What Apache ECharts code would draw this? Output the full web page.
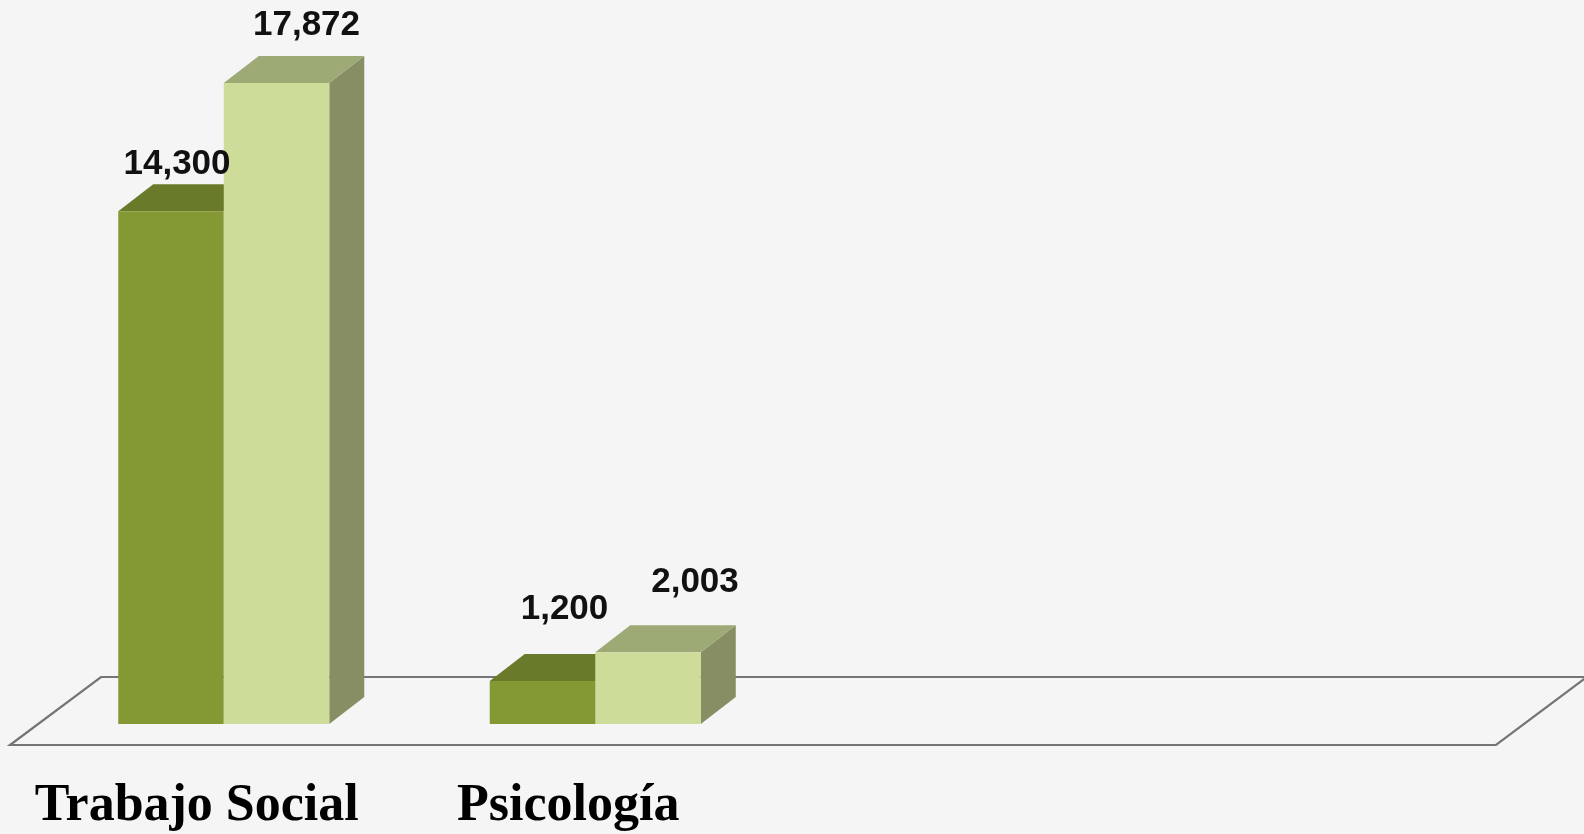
<!DOCTYPE html>
<html>
<head>
<meta charset="utf-8">
<script src="https://cdn.jsdelivr.net/npm/echarts@6/dist/echarts.min.js"></script>
<style>
  html, body { margin: 0; padding: 0; background: #f5f5f5; }
  #chart { width: 1584px; height: 834px; }
</style>
</head>
<body>
<div id="chart"></div>
<script>
// categories on the floor (the last two slots are empty in the original)
const categories = ['Trabajo Social', 'Psicología', '', ''];
// first (dark) and second (light) series
const firstValues = [14300, 1200];
const secondValues = [17872, 2003];

// small nudges for the value labels, relative to the top of each bar
const firstLabelNudge = [[6, -47], [22, -72]];
const secondLabelNudge = [[30, -58], [47, -70]];

const chart = echarts.init(document.getElementById('chart'));

const DEPTH_X = 35, DEPTH_Y = -27;   // bar depth
const BAR_RATIO = 0.284;              // bar width / category width

// x range of one bar inside its category
function barSpan(api, idx, side) {
    const base = api.coord([idx, 0]);
    const w = api.size([1, 0])[0] * BAR_RATIO;
    const x0 = side < 0 ? base[0] - w : base[0];
    return [x0, x0 + w, base[1]];
}

function barRenderer(side, colors) {
    return function (params, api) {
        const idx = api.value(0);
        const val = api.value(1);
        const span = barSpan(api, idx, side);
        const x0 = span[0], x1 = span[1], yb = span[2];
        const yt = api.coord([idx, val])[1];
        return {
            type: 'group',
            children: [
                {
                    type: 'polygon',
                    shape: { points: [[x1, yb], [x1 + DEPTH_X, yb + DEPTH_Y], [x1 + DEPTH_X, yt + DEPTH_Y], [x1, yt]] },
                    style: { fill: colors.side }
                },
                {
                    type: 'polygon',
                    shape: { points: [[x0, yt], [x1, yt], [x1 + DEPTH_X, yt + DEPTH_Y], [x0 + DEPTH_X, yt + DEPTH_Y]] },
                    style: { fill: colors.top }
                },
                {
                    type: 'rect',
                    shape: { x: x0, y: yt, width: x1 - x0, height: yb - yt },
                    style: { fill: colors.front }
                }
            ]
        };
    };
}

// value labels drawn in their own series so they sit above every bar
function labelRenderer(params, api) {
    const idx = api.value(0);
    const val = api.value(1);
    const s = api.value(2);
    const nudge = (s === 0 ? firstLabelNudge : secondLabelNudge)[idx];
    const span = barSpan(api, idx, s === 0 ? -1 : 1);
    const yt = api.coord([idx, val])[1];
    return {
        type: 'text',
        style: {
            x: (span[0] + span[1]) / 2 + nudge[0],
            y: yt + nudge[1],
            text: echarts.format.addCommas(val),
            fill: '#111',
            font: 'bold 35px "Liberation Sans", Arial, sans-serif',
            align: 'center',
            verticalAlign: 'middle'
        }
    };
}

function floorRenderer(params, api) {
    const band = api.size([1, 0])[0];
    const c = api.coord([0, 0]);
    const xl = c[0] - band / 2;
    const xr = xl + band * categories.length;
    const y = c[1];
    return {
        type: 'polygon',
        shape: { points: [[xl - 28, y + 21], [xr - 28, y + 21], [xr + 63, y - 47], [xl + 63, y - 47]] },
        style: { fill: 'none', stroke: '#757575', lineWidth: 2.2 }
    };
}

const labelData = firstValues.map((v, i) => [i, v, 0])
    .concat(secondValues.map((v, i) => [i, v, 1]));

const option = {
    backgroundColor: '#f5f5f5',
    animation: false,
    grid: { left: 38, width: 1486, top: 6.7, bottom: 110 },
    xAxis: {
        type: 'category',
        data: categories,
        axisLine: { show: false },
        axisTick: { show: false },
        splitLine: { show: false },
        axisLabel: {
            interval: 0,
            margin: 57,
            padding: [0, 54, 0, 0],
            color: '#000',
            fontFamily: '"Liberation Serif", "Times New Roman", serif',
            fontWeight: 'bold',
            fontSize: 52,
            lineHeight: 52
        }
    },
    yAxis: {
        type: 'value',
        min: 0,
        max: 20000,
        show: false,
        splitLine: { show: false }
    },
    series: [
        {
            type: 'custom',
            data: [[0, 0]],
            clip: false,
            renderItem: floorRenderer
        },
        {
            type: 'custom',
            data: firstValues.map((v, i) => [i, v]),
            encode: { x: 0, y: 1 },
            clip: false,
            renderItem: barRenderer(-1, { front: '#849834', top: '#6a7a2b', side: '#5d6b26' })
        },
        {
            type: 'custom',
            data: secondValues.map((v, i) => [i, v]),
            encode: { x: 0, y: 1 },
            clip: false,
            renderItem: barRenderer(1, { front: '#cddc98', top: '#9eaa76', side: '#878e63' })
        },
        {
            type: 'custom',
            data: labelData,
            encode: { x: 0, y: 1 },
            clip: false,
            z: 5,
            renderItem: labelRenderer
        }
    ]
};

chart.setOption(option);
window.addEventListener('resize', function () {
    chart.resize();
});
</script>
</body>
</html>
